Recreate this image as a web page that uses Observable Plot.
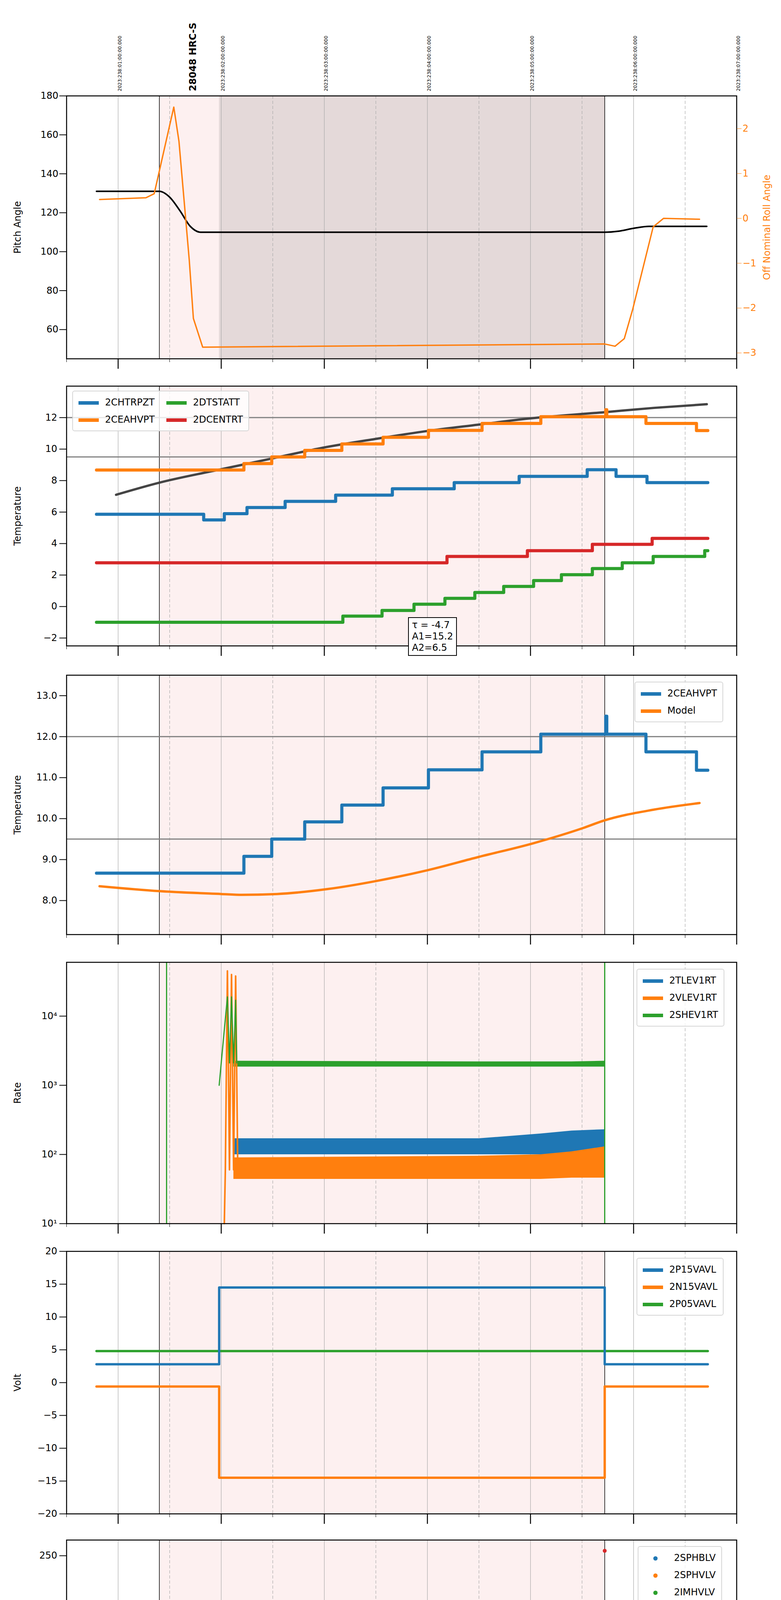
<!DOCTYPE html>
<html><head><meta charset="utf-8">
<script src="https://cdn.jsdelivr.net/npm/d3@7"></script>
<script src="https://cdn.jsdelivr.net/npm/@observablehq/plot@0.6"></script>
<style>
html,body{margin:0;padding:0;background:#fff;font-family:"DejaVu Sans",sans-serif;}
#wrap{width:2000px;}
.pn{position:relative;width:2000px;overflow:visible;}
.pn svg{position:absolute;left:0;background:transparent!important;overflow:visible;}
.leg{position:absolute;background:rgba(255,255,255,0.8);border:2px solid #d6d6d6;border-radius:6px;font-size:24px;padding:6px 14px;line-height:44px;z-index:2;}
.leg span.sw{display:inline-block;width:52px;height:9px;margin-right:16px;vertical-align:middle;}
.leg span.dt{display:inline-block;width:11px;height:11px;border-radius:6px;margin:0 42px 0 24px;vertical-align:middle;}
</style></head><body><div id="wrap"></div>
<script>
// ---------- shared ----------
const hourTicks = [21,22,23,24,25,26,27];
const hourLabels = ["21h","22h","23h","00h","01h","02h","03h"];
const halfTicks = [20.5,21.5,22.5,23.5,24.5,25.5,26.5];
const dateLabels = ["2023:238:01:00:00.000","2023:238:02:00:00.000","2023:238:03:00:00.000","2023:238:04:00:00.000","2023:238:05:00:00.000","2023:238:06:00:00.000","2023:238:07:00:00.000"];
const obsStart = 21.40, obsEnd = 25.72, darkStart = 21.98;
const obsLabel = "28048 HRC-S", obsLabelTime = 21.69;

// ---------- panel 1 ----------
const pitchT = [20.79,21.40,21.50,21.60,21.70,21.80,25.72,25.85,26.0,26.15,26.71];
const pitchV = [131,131,128,121,113,110,110,110.5,112,113,113];
const rollT = [20.82,21.27,21.35,21.54,21.59,21.69,21.73,21.82,25.72,25.82,25.91,25.99,26.19,26.29,26.64];
const rollV = [0.42,0.46,0.55,2.48,1.72,-0.93,-2.23,-2.87,-2.80,-2.85,-2.68,-2.04,-0.19,0.0,-0.02];
const rollTicks = [-3,-2,-1,0,1,2];

// ---------- panel 2 ----------
const curveT = [20.98,21.40,22.00,22.49,22.98,23.49,24.00,24.49,24.98,25.71,26.20,26.71];
const curveV = [7.1,7.87,8.72,9.4,10.08,10.64,11.15,11.55,11.94,12.34,12.62,12.85];
const ceahT = [20.79,22.22,22.49,22.81,23.17,23.57,24.01,24.53,25.10,25.73,25.74,26.12,26.61,26.72];
const ceahV = [8.67,9.08,9.50,9.92,10.33,10.75,11.19,11.63,12.06,12.5,12.06,11.63,11.18];
const chtrT = [20.79,21.83,22.03,22.25,22.62,23.11,23.66,24.26,24.89,25.55,25.83,26.13,26.72];
const chtrV = [5.86,5.5,5.9,6.29,6.68,7.08,7.48,7.87,8.27,8.69,8.27,7.87];
const dcenT = [20.79,24.19,24.97,25.60,26.18,26.72];
const dcenV = [2.78,3.18,3.55,3.95,4.33];
const dtstT = [20.79,23.18,23.56,23.87,24.17,24.46,24.74,25.03,25.30,25.60,25.89,26.19,26.69,26.72];
const dtstV = [-1.0,-0.61,-0.25,0.15,0.52,0.89,1.28,1.65,2.02,2.41,2.78,3.18,3.55];
const fitText = ["τ = -4.7","A1=15.2","A2=6.5"];

// ---------- panel 3 ----------
const modelT = [20.82,21.40,22.0,22.20,22.54,23.03,23.51,24.00,24.49,25.03,25.51,25.71,26.20,26.64];
const modelV = [8.35,8.23,8.16,8.14,8.16,8.28,8.48,8.74,9.06,9.40,9.77,9.95,10.22,10.38];

// ---------- panel 4 (rates) ----------
const shevSpikeT = [21.98,22.0,22.06,22.08,22.10,22.12,22.14,22.15];
const shevSpikeV = [1000,2100,19000,2100,19000,2100,17000,2100];
const vlevSpikeT = [22.03,22.04,22.06,22.08,22.10,22.12,22.14,22.16];
const vlevSpikeV = [10,60,45000,60,40000,60,38000,70];
const bandT = [22.12,24.5,25.10,25.40,25.72];
const shevLo = [1850,1850,1850,1850,1850], shevHi = [2250,2200,2200,2200,2250];
const tlevLo = [100,100,100,100,100], tlevHi = [170,170,200,220,230];
const vlevLo = [44,44,44,46,46], vlevHi = [90,95,100,110,130];
const shevLines = [21.47,25.72];

// ---------- panel 5 (volt) ----------
const p15T = [20.79,21.98,25.72,26.72], p15V = [2.8,14.5,2.8];
const n15T = [20.79,21.98,25.72,26.72], n15V = [-0.6,-14.5,-0.6];
const p05T = [20.79,26.72], p05V = [4.8];

// ---------- panel 6 (HV) ----------
const sphbT = [22.00,22.00,22.01,22.02,22.03,22.05,22.08,25.72], sphbV = [118,104,102,97,92,85,78,78];
const sphvT = [22.00,22.00,22.01,22.02,22.03,22.04,22.05,22.06,22.11,25.72], sphvV = [127,125,97,91,86,80,75,72,72,72];
const sphvExtraT = [22.11], sphvExtraV = [127];
const imhbT = [25.72], imhbV = [255];

// ---------- panel 7 (detector temp) ----------
const sphvaT = [21.98,21.98,22.06,22.061,22.08,22.081,22.10,22.101,22.13,22.131,22.149,22.227,22.295,22.378,22.466,22.56,22.67,22.80,22.94,23.10,23.29,23.49,23.72,23.99,24.32,24.72,25.16,25.64,25.72,25.73];
const sphvaV = [0,17.5,17.5,10.5,17.5,11.0,17.5,11.0,17.5,11.0,17.9,18.1,18.4,18.7,19.0,19.3,19.6,19.9,20.2,20.5,20.8,21.1,21.4,21.7,22.0,22.3,22.65,22.95,22.95,0];
const imhvT = [21.96,21.96,22.685,23.03,23.36,23.70,24.08,24.47,24.93,25.40,25.72,25.73,25.735];
const imhvV = [0,17.0,17.25,17.5,17.8,18.1,18.4,18.7,18.95,19.3,19.3,40,0];
const spinT = [21.99,21.99,22.061,22.062,22.08,22.14,22.141,22.15,23.56,24.82,25.71];
const spinV = [0,5.5,5.5,0,5.5,5.5,0,5.5,6.0,6.5,6.5];
const iminT = [21.99,21.99,22.061,22.062,22.08,22.139,22.14,22.15,24.68,25.70,25.71];
const iminV = [0,3.7,3.7,5.5,3.7,3.7,5.5,3.7,4.15,4.6,4.6];

// ---------- panel 8 (FEA temp) ----------
const fhtrT = [20.79,22.25,22.37,22.51,22.66,22.80,22.94,23.08,23.22,23.38,23.54,23.70,23.86,24.02,24.20,24.37,24.55,24.73,24.93,25.12,25.33,25.54,25.77,25.98,26.27,26.51,26.72];
const fhtrV = [-4.0,-3.65,-3.3,-2.9,-2.5,-2.15,-1.75,-1.4,-1.0,-0.6,-0.25,0.15,0.5,0.9,1.3,1.65,2.05,2.4,2.8,3.2,3.55,3.95,4.3,3.95,3.55,3.2];
const fradT = [22.33,22.48,22.61,22.76,22.90,23.05,23.21,23.38,23.54,23.72,23.90,24.08,24.27,24.47,24.67,24.87,25.09,25.31,25.54,26.01,26.18,26.38,26.60,26.72];
const fradV = [-5.2,-4.85,-4.45,-4.05,-3.65,-3.25,-2.9,-2.5,-2.15,-1.75,-1.35,-1.0,-0.6,-0.25,0.15,0.5,0.9,1.25,1.65,1.3,0.9,0.5,0.15];
const feprT = [21.99,22.027,22.061,22.062,22.076,22.10,22.101,22.11,22.149,22.232,22.295,22.368,22.44,22.53,22.65,22.77,22.94,23.08,23.27,23.42,23.61,23.78,23.98,24.17,24.39,24.59,24.83,25.08,25.32,25.56,25.71];
const feprV = [-3.4,-3.0,-3.0,-4.6,-2.6,-2.6,-4.6,-2.2,-1.8,-1.5,-1.2,-1.0,-0.6,-0.2,0.2,0.65,1.1,1.5,1.95,2.35,2.8,3.2,3.7,4.05,4.6,5.0,5.55,6.0,6.45,6.75,6.8];
const fe00T = [21.963,21.963,21.964,22.061,22.061,22.062,22.10,22.10,22.101,22.139,22.139,22.14,22.149,22.232,22.32,22.417,22.51,22.61,22.71,22.81,22.92,23.03,23.15,23.27,23.38,23.50,23.62,23.75,23.88,24.01,24.15,24.30,24.42,24.56,24.71,24.86,25.03,25.18,25.34,25.51,25.72,25.72,25.73];
const fe00V = [-10,20,-1.8,-1.8,20,-1.8,-1.8,20,-1.8,-1.8,20,-1.8,-1.45,-1.1,-0.8,-0.45,-0.15,0.15,0.45,0.8,1.1,1.45,1.75,2.1,2.35,2.65,2.95,3.25,3.55,3.85,4.15,4.45,4.7,5.0,5.3,5.6,5.9,6.15,6.45,6.7,6.7,20,-10];

// ---------- helpers ----------
const C = {blue:"#1f77b4", orange:"#ff7f0e", green:"#2ca02c", red:"#d62728"};
const steps = (T,V) => T.map((t,i)=>({x:t, y: V[Math.min(i,V.length-1)]}));
const pts = (T,V) => T.map((t,i)=>({x:t,y:V[i]}));
const wrap = document.getElementById("wrap");
const minus = d => String(d).replace("-","\u2212");

// In-flow blocks; each block starts at `blockTop` and is `blockH` tall.
function block(blockTop, blockH){
  const d=document.createElement("div"); d.className="pn"; d.style.height=blockH+"px";
  d.dataset.top=blockTop; wrap.appendChild(d); return d;
}
function background(ymin, ymax, dark){
  const m = [Plot.rectY([{x1:obsStart,x2:obsEnd}],{x1:"x1",x2:"x2",y1:ymin,y2:ymax,fill:"#fdf0f0"})];
  if(dark) m.push(Plot.rectY([{x1:darkStart,x2:obsEnd}],{x1:"x1",x2:"x2",y1:ymin,y2:ymax,fill:"#e4d9d9"}));
  m.push(Plot.ruleX(hourTicks,{stroke:"#aaa",strokeWidth:1.2}));
  m.push(Plot.ruleX(halfTicks,{stroke:"#aaa",strokeWidth:1.2,strokeDasharray:"8,5"}));
  m.push(Plot.ruleX([obsStart,obsEnd],{stroke:"#000",strokeWidth:1.5}));
  return m;
}
function xAxes(last){
  const m = [
    Plot.axisX({ticks:hourTicks,tickSize:26,tickFormat:()=>"",strokeWidth:2.5,label:null}),
    Plot.axisX({ticks:halfTicks,tickSize:9,tickFormat:()=>"",label:null}),
  ];
  if(last){
    m.push(Plot.axisX({ticks:halfTicks,tickSize:0,tickPadding:14,tickFormat:()=>"30",fontSize:13,label:null}));
    m.push(Plot.axisX({ticks:hourTicks,tickSize:0,tickPadding:40,tickFormat:d=>hourLabels[hourTicks.indexOf(d)],fontSize:26,label:null}));
  }
  return m;
}
function place(blk, svg, svgTop){
  svg.style.top = (svgTop - (+blk.dataset.top))+"px";
  blk.appendChild(svg);
}
function panel({blk, top, frameH, mt=30, mb=45, y, yLabel, marks, yTicks, yFmt, last=false}){
  const yMin = y.domain[0], yMax = y.domain[1];
  const p = Plot.plot({
    width:2000, height: frameH+mt+mb,
    marginLeft:170, marginRight:114, marginTop:mt, marginBottom:mb,
    x:{domain:[20.5,27]}, y:{...y},
    style:{fontFamily:"DejaVu Sans",fontSize:"22px",background:"transparent",color:"#000"},
    marks:[
      ...background(yMin,yMax,false),
      ...marks,
      Plot.frame({stroke:"#000",strokeWidth:2.5}),
      Plot.axisY({ticks:yTicks, tickFormat:yFmt, tickSize:18, tickPadding:6, fontSize:24, label:yLabel, labelAnchor:"center", labelArrow:"none", labelOffset:135, strokeWidth:2}),
      ...xAxes(last)
    ]
  });
  place(blk, p, top-mt);
}
function legend(blk, left, top, items, cols=1, dots=false){
  const d=document.createElement("div"); d.className="leg";
  d.style.left=left+"px"; d.style.top=(top-(+blk.dataset.top))+"px";
  if(cols>1){d.style.display="grid";d.style.gridTemplateColumns="auto auto";d.style.columnGap="30px";d.style.gridAutoFlow="column";d.style.gridTemplateRows="repeat("+Math.ceil(items.length/cols)+",auto)";}
  d.innerHTML = items.map(([n,c])=>`<div>${dots?`<span class="dt" style="background:${c}"></span>`:`<span class="sw" style="background:${c}"></span>`}${n}</div>`).join("");
  blk.appendChild(d);
}

// ---------- panel 1 ----------
{
  const blk = block(0, 958);
  const yMin=45, yMax=180, rMin=-3.13, rMax=2.73;
  const toP = r => yMin + (r-rMin)*(yMax-yMin)/(rMax-rMin);
  const mt=245;
  const p = Plot.plot({
    width:2000, height:(918-245)+mt+45, marginLeft:170, marginRight:114, marginTop:mt, marginBottom:45,
    x:{domain:[20.5,27]}, y:{domain:[yMin,yMax]},
    style:{fontFamily:"DejaVu Sans",fontSize:"22px",background:"transparent"},
    marks:[
      ...background(yMin,yMax,true),
      Plot.line(pts(pitchT,pitchV),{x:"x",y:"y",stroke:"#000",strokeWidth:4,curve:"monotone-x"}),
      Plot.line(pts(rollT,rollV),{x:"x",y:d=>toP(d.y),stroke:C.orange,strokeWidth:3.5}),
      Plot.frame({stroke:"#000",strokeWidth:2.5}),
      Plot.axisY({ticks:[60,80,100,120,140,160,180],tickSize:18,fontSize:24,label:"Pitch Angle",labelAnchor:"center",labelArrow:"none",labelOffset:135,strokeWidth:2}),
      Plot.axisY({anchor:"right",ticks:rollTicks.map(toP),tickFormat:v=>minus(Math.round((v-yMin)*(rMax-rMin)/(yMax-yMin)+rMin)),tickSize:12,fontSize:24,color:C.orange,stroke:C.orange,label:"Off Nominal Roll Angle",labelAnchor:"center",labelArrow:"none",labelOffset:85}),
      ...xAxes(false),
      Plot.text(hourTicks,{x:d=>d,frameAnchor:"top",text:(d,i)=>dateLabels[i],rotate:-90,textAnchor:"start",dy:-12,fontSize:12}),
      Plot.text([obsLabelTime],{x:d=>d,frameAnchor:"top",text:()=>obsLabel,rotate:-90,textAnchor:"start",dy:-12,fontSize:24,fontWeight:"bold"})
    ]
  });
  place(blk, p, 0);
}
// ---------- panel 2 ----------
{
  const blk = block(958, 740);
  panel({blk, top:988, frameH:665, y:{domain:[-2.5,14]}, yLabel:"Temperature", yTicks:[-2,0,2,4,6,8,10,12], yFmt:minus,
  marks:[
    Plot.ruleY([12,9.5],{stroke:"#808080",strokeWidth:3}),
    Plot.line(pts(curveT,curveV),{x:"x",y:"y",stroke:"#444",strokeWidth:6,curve:"monotone-x"}),
    Plot.line(steps(chtrT,chtrV),{x:"x",y:"y",stroke:C.blue,strokeWidth:8,curve:"step-after"}),
    Plot.line(steps(ceahT,ceahV),{x:"x",y:"y",stroke:C.orange,strokeWidth:8,curve:"step-after"}),
    Plot.line(steps(dtstT,dtstV),{x:"x",y:"y",stroke:C.green,strokeWidth:8,curve:"step-after"}),
    Plot.line(steps(dcenT,dcenV),{x:"x",y:"y",stroke:C.red,strokeWidth:8,curve:"step-after"}),
  ]});
  const d=document.createElement("div");
  d.style.cssText="position:absolute;z-index:3;left:1045px;top:"+(1580-958)+"px;border:2.5px solid #000;background:#fff;font-size:24px;line-height:29px;padding:4px 8px;";
  d.innerHTML=fitText.join("<br>"); blk.appendChild(d);
  legend(blk,185,1000,[["2CHTRPZT",C.blue],["2CEAHVPT",C.orange],["2DTSTATT",C.green],["2DCENTRT",C.red]],2);
}
// ---------- panel 3 ----------
{
  const blk = block(1698, 735);
  panel({blk, top:1728, frameH:664, y:{domain:[7.17,13.5]}, yLabel:"Temperature", yTicks:[8,9,10,11,12,13],
  marks:[
    Plot.ruleY([12,9.5],{stroke:"#808080",strokeWidth:3}),
    Plot.line(steps(ceahT,ceahV),{x:"x",y:"y",stroke:C.blue,strokeWidth:8,curve:"step-after"}),
    Plot.line(pts(modelT,modelV),{x:"x",y:"y",stroke:C.orange,strokeWidth:6,curve:"monotone-x"}),
  ]});
  legend(blk,1625,1745,[["2CEAHVPT",C.blue],["Model",C.orange]]);
}
// ---------- panel 4 ----------
{
  const blk = block(2433, 740);
  const sup = {1:"¹",2:"²",3:"³",4:"⁴"};
  panel({blk, top:2463, frameH:669, y:{type:"log",domain:[10,60000]}, yLabel:"Rate", yTicks:[10,100,1000,10000], yFmt:d=>"10"+sup[Math.round(Math.log10(d))],
  marks:[
    Plot.areaY(bandT.map((t,i)=>({x:t,y1:shevLo[i],y2:shevHi[i]})),{x:"x",y1:"y1",y2:"y2",fill:C.green}),
    Plot.areaY(bandT.map((t,i)=>({x:t,y1:tlevLo[i],y2:tlevHi[i]})),{x:"x",y1:"y1",y2:"y2",fill:C.blue}),
    Plot.areaY(bandT.map((t,i)=>({x:t,y1:vlevLo[i],y2:vlevHi[i]})),{x:"x",y1:"y1",y2:"y2",fill:C.orange}),
    Plot.line(pts(vlevSpikeT,vlevSpikeV),{x:"x",y:"y",stroke:C.orange,strokeWidth:4}),
    Plot.line(pts(shevSpikeT,shevSpikeV),{x:"x",y:"y",stroke:C.green,strokeWidth:3}),
    Plot.ruleX(shevLines,{stroke:C.green,strokeWidth:3}),
  ]});
  legend(blk,1630,2480,[["2TLEV1RT",C.blue],["2VLEV1RT",C.orange],["2SHEV1RT",C.green]]);
}
// ---------- panel 5 ----------
{
  const blk = block(3173, 739);
  panel({blk, top:3203, frameH:672, y:{domain:[-20,20]}, yLabel:"Volt", yTicks:[-20,-15,-10,-5,0,5,10,15,20], yFmt:minus,
  marks:[
    Plot.line(steps(p05T,p05V),{x:"x",y:"y",stroke:C.green,strokeWidth:6,curve:"step-after"}),
    Plot.line(steps(p15T,p15V),{x:"x",y:"y",stroke:C.blue,strokeWidth:6,curve:"step-after"}),
    Plot.line(steps(n15T,n15V),{x:"x",y:"y",stroke:C.orange,strokeWidth:6,curve:"step-after"}),
  ]});
  legend(blk,1630,3220,[["2P15VAVL",C.blue],["2N15VAVL",C.orange],["2P05VAVL",C.green]]);
}
// ---------- panel 6 ----------
{
  const blk = block(3912, 740);
  panel({blk, top:3942, frameH:668, y:{domain:[0,266]}, yLabel:"HV Monitor", yTicks:[0,50,100,150,200,250],
  marks:[
    Plot.line(pts(sphbT,sphbV).slice(6),{x:"x",y:"y",stroke:C.blue,strokeWidth:9}),
    Plot.line(pts(sphvT,sphvV).slice(8),{x:"x",y:"y",stroke:C.orange,strokeWidth:9}),
    Plot.dot(pts(sphbT,sphbV),{x:"x",y:"y",fill:C.blue,r:5}),
    Plot.dot(pts(sphvT,sphvV).concat(pts(sphvExtraT,sphvExtraV)),{x:"x",y:"y",fill:C.orange,r:5}),
    Plot.dot(pts(imhbT,imhbV),{x:"x",y:"y",fill:C.red,r:5}),
  ]});
  legend(blk,1633,3958,[["2SPHBLV",C.blue],["2SPHVLV",C.orange],["2IMHVLV",C.green],["2IMHBLV",C.red]],1,true);
}
// ---------- panel 7 ----------
{
  const blk = block(4652, 739);
  panel({blk, top:4682, frameH:668, y:{domain:[2.23,23.8]}, yLabel:"Detector Temp", yTicks:[2.5,5,7.5,10,12.5,15,17.5,20,22.5], yFmt:d3.format(".1f"),
  marks:[
    Plot.line(steps(sphvaT,sphvaV),{x:"x",y:"y",stroke:C.orange,strokeWidth:6,curve:"step-after",clip:true}),
    Plot.line(steps(imhvT,imhvV),{x:"x",y:"y",stroke:C.red,strokeWidth:6,curve:"step-after",clip:true}),
    Plot.line(steps(spinT,spinV),{x:"x",y:"y",stroke:C.blue,strokeWidth:6,curve:"step-after",clip:true}),
    Plot.line(steps(iminT,iminV),{x:"x",y:"y",stroke:C.green,strokeWidth:6,curve:"step-after",clip:true}),
  ]});
  legend(blk,1625,4700,[["2SPINATM",C.blue],["2SPHVATM",C.orange],["2IMINATM",C.green],["2IMHVATM",C.red]]);
}
// ---------- panel 8 ----------
{
  const blk = block(5391, 809);
  panel({blk, top:5421, frameH:668, mb:110, y:{domain:[-5.33,6.79]}, yLabel:"FEA Temp", yTicks:[-4,-2,0,2,4,6], yFmt:minus, last:true,
  marks:[
    Plot.line(steps(fhtrT,fhtrV),{x:"x",y:"y",stroke:C.blue,strokeWidth:6,curve:"step-after",clip:true}),
    Plot.line(steps(fradT,fradV),{x:"x",y:"y",stroke:C.orange,strokeWidth:6,curve:"step-after",clip:true}),
    Plot.line(steps(feprT,feprV),{x:"x",y:"y",stroke:C.green,strokeWidth:6,curve:"step-after",clip:true}),
    Plot.line(steps(fe00T,fe00V),{x:"x",y:"y",stroke:C.red,strokeWidth:6,curve:"step-after",clip:true}),
  ]});
  legend(blk,1625,5865,[["2FHTRMZT",C.blue],["2FRADPYT",C.orange],["2FEPRATM",C.green],["2FE00ATM",C.red]]);
  const d=document.createElement("div");
  d.style.cssText="position:absolute;left:0;width:2056px;text-align:center;top:"+(6158-5391)+"px;font-size:32px;";
  d.textContent="2023-08-26 (238)"; blk.appendChild(d);
}
</script></body></html>
